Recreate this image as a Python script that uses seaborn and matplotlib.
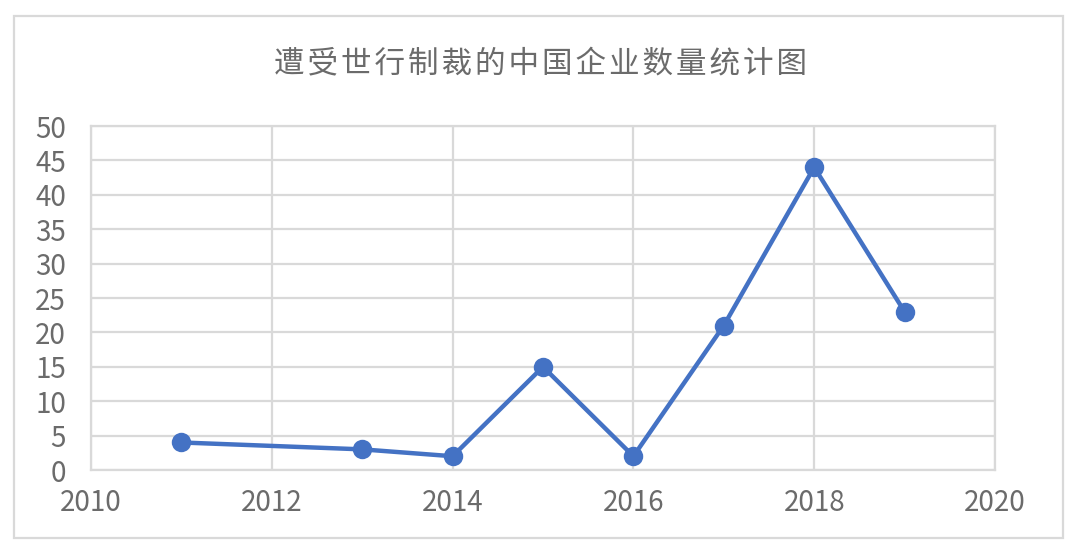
import matplotlib
matplotlib.use("Agg")
import matplotlib.pyplot as plt
import seaborn as sns
import pandas as pd
from matplotlib.patches import Rectangle

years = [2011, 2013, 2014, 2015, 2016, 2017, 2018, 2019]
counts = [4, 3, 2, 15, 2, 21, 44, 23]
title = "遭受世行制裁的中国企业数量统计图"
x_ticks = [2010, 2012, 2014, 2016, 2018, 2020]
y_ticks = [0, 5, 10, 15, 20, 25, 30, 35, 40, 45, 50]

sns.set_theme(style="white")
plt.rcParams['font.family'] = ['Noto Sans CJK SC', 'DejaVu Sans']

df = pd.DataFrame({"year": years, "count": counts})

fig = plt.figure(figsize=(10.8, 5.52), dpi=100)
ax = fig.add_axes([91/1080, 1-470/552, (995-91)/1080, (470-126)/552])

grid_c = "#d9d9d9"
text_c = "#6b6b6b"
ax.grid(True, color=grid_c, linewidth=1.6)
ax.set_axisbelow(True)
sns.lineplot(data=df, x="year", y="count", ax=ax, color="#4472C4",
             linewidth=3.2, marker="o", markersize=14, markeredgewidth=0)

ax.set_xlim(2010, 2020)
ax.set_ylim(0, 50)
ax.set_xticks(x_ticks)
ax.set_yticks(y_ticks)
ax.set_xlabel("")
ax.set_ylabel("")
for s in ax.spines.values():
    s.set_color(grid_c)
    s.set_linewidth(1.6)
ax.tick_params(axis="both", colors=text_c, labelsize=20, length=0)
ax.tick_params(axis="y", pad=18)
ax.tick_params(axis="x", pad=13)
for lab in ax.get_xticklabels() + ax.get_yticklabels():
    lab.set_fontweight("light")

fig.text(540/1080, 1-65/552, "\u200a".join(title), ha="center", va="center",
         fontsize=22, color=text_c, fontweight="light",
         family=['Noto Sans CJK SC', 'DejaVu Sans'])

fig.patches.append(Rectangle((14/1080, 1-538/552), (1063-14)/1080, (538-16)/552,
                             transform=fig.transFigure, fill=False,
                             edgecolor=grid_c, linewidth=1.6))

fig.savefig("out.png", dpi=100, facecolor="white")
